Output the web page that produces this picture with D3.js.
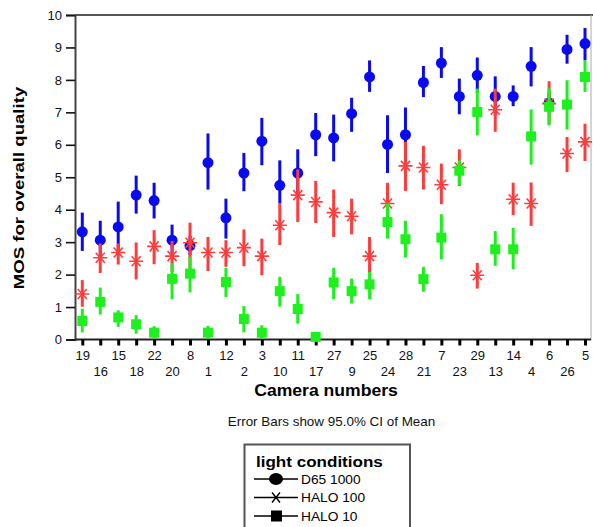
<!DOCTYPE html>
<html><head><meta charset="utf-8">
<script src="https://cdn.jsdelivr.net/npm/d3@7"></script>
<style>body{margin:0;background:#fff}svg{display:block}text{font-family:"Liberation Sans",Arial,sans-serif}</style>
</head><body>
<script>
const cameras = ["19","16","15","18","22","20","8","1","12","2","3","10","11","17","27","9","25","24","28","21","7","23","29","13","14","4","6","26","5"];
const yTicks = [0,1,2,3,4,5,6,7,8,9,10];
const seriesNames = ["D65 1000","HALO 100","HALO 10"];

const d65Mean = [3.32,3.06,3.47,4.45,4.28,3.06,2.89,5.45,3.75,5.13,6.11,4.75,5.13,6.31,6.21,6.96,8.09,6.01,6.31,7.92,8.52,7.49,8.14,7.49,7.49,8.42,7.29,8.94,9.12];
const d65Lo   = [2.73,2.46,2.69,3.88,3.73,2.58,2.60,4.62,3.11,4.57,5.37,4.19,4.40,5.65,5.49,6.40,7.63,5.13,5.52,7.47,8.06,6.94,7.60,6.90,7.19,7.80,7.00,8.50,8.60];
const d65Hi   = [3.91,3.66,4.25,5.05,4.83,3.54,3.20,6.35,4.34,5.75,6.83,5.52,5.86,6.98,6.93,7.45,8.60,6.91,7.15,8.43,9.01,8.04,8.69,8.11,7.83,9.01,7.60,9.39,9.60];

const halo100Mean = [1.40,2.52,2.68,2.41,2.87,2.57,2.98,2.68,2.68,2.83,2.57,3.52,4.45,4.24,3.91,3.80,2.57,4.19,5.35,5.30,4.77,5.30,1.98,7.08,4.32,4.19,7.27,5.73,6.09];
const halo100Lo   = [1.01,2.05,2.31,1.85,2.32,2.08,2.05,2.11,2.24,2.26,1.98,2.91,3.62,3.59,3.16,3.24,2.03,3.62,4.58,4.62,4.17,4.73,1.57,6.40,3.83,3.50,6.63,5.16,5.50];
const halo100Hi   = [1.83,2.96,2.96,2.99,3.37,3.04,3.60,3.16,3.06,3.39,3.11,4.19,5.24,4.89,4.62,4.34,3.16,4.83,6.09,5.97,5.42,5.86,2.36,7.73,4.83,4.84,7.96,6.24,6.65];

const halo10Mean = [0.57,1.16,0.68,0.47,0.21,1.87,2.03,0.21,1.77,0.63,0.21,1.49,0.94,0.08,1.76,1.49,1.70,3.62,3.09,1.86,3.14,5.20,7.01,2.78,2.78,6.26,7.17,7.24,8.09];
const halo10Lo   = [0.22,0.77,0.39,0.18,0.03,1.24,1.45,0.03,1.31,0.22,0.03,1.01,0.49,0.00,1.24,1.11,1.24,3.11,2.53,1.47,2.47,4.75,6.29,2.27,2.16,5.39,6.60,6.47,7.63];
const halo10Hi   = [0.95,1.60,0.90,0.75,0.41,2.36,2.55,0.42,2.21,1.03,0.44,1.93,1.40,0.18,2.21,1.88,2.08,4.19,3.66,2.24,3.86,5.52,7.73,3.34,3.44,7.09,7.76,7.99,8.60];

const W = 593, H = 527;
const svg = d3.select("body").append("svg").attr("width", W).attr("height", H);
svg.append("rect").attr("width", W).attr("height", H).attr("fill", "#fff");

const x = d3.scalePoint().domain(cameras).range([82.3, 585]);
const y = d3.scaleLinear().domain([0, 10]).range([339.5, 15]);
const left = 75, right = 591;
const SX = 1.1; // horizontal stretch of the original's text

// frame
svg.append("line").attr("x1", left).attr("x2", 593).attr("y1", 15).attr("y2", 15).attr("stroke", "#555").attr("stroke-width", 2);
svg.append("line").attr("x1", right).attr("x2", right).attr("y1", 15).attr("y2", 340).attr("stroke", "#aaa").attr("stroke-width", 1);

// y axis
const yAxis = svg.append("g").attr("transform", `translate(${left},0)`)
  .call(d3.axisLeft(y).tickValues(yTicks).tickSize(9).tickPadding(4).tickFormat(d3.format("d")));
yAxis.select(".domain").attr("stroke", "#444").attr("stroke-width", 2);
yAxis.selectAll(".tick line").attr("stroke", "#111").attr("stroke-width", 1.6);
yAxis.selectAll(".tick text").attr("font-size", 13).attr("fill", "#111");

// x axis
const xAxis = svg.append("g").attr("transform", "translate(0,339.5)")
  .call(d3.axisBottom(x).tickSize(6).tickPadding(4));
xAxis.select(".domain").attr("d", `M${left},0H${right}`).attr("stroke", "#222").attr("stroke-width", 2);
xAxis.selectAll(".tick line").attr("stroke", "#000").attr("stroke-width", 3);
xAxis.selectAll(".tick text").attr("font-size", 13).attr("fill", "#111")
  .attr("y", (d, i) => i % 2 === 0 ? 11 : 27);

// axis titles
svg.append("text").attr("transform", "translate(24,188) rotate(-90) scale(1.2,1)").attr("text-anchor", "middle")
  .attr("font-size", 15.5).attr("font-weight", "bold").attr("fill", "#000").text("MOS for overall quality");
svg.append("text").attr("transform", `translate(326,396) scale(${SX},1)`).attr("text-anchor", "middle")
  .attr("font-size", 16).attr("font-weight", "bold").attr("fill", "#000").text("Camera numbers");
svg.append("text").attr("transform", `translate(331.5,426) scale(1.12,1)`).attr("text-anchor", "middle")
  .attr("font-size", 12).attr("fill", "#111").text("Error Bars show 95.0% CI of Mean");

const colors = ["#0a0af0", "#ff3c3c", "#1ef01e"];
const series = [
  {mean: d65Mean, lo: d65Lo, hi: d65Hi, sym: "circle"},
  {mean: halo100Mean, lo: halo100Lo, hi: halo100Hi, sym: "star"},
  {mean: halo10Mean, lo: halo10Lo, hi: halo10Hi, sym: "square"}
];

series.forEach((s, si) => {
  const g = svg.append("g");
  const c = colors[si];
  cameras.forEach((cam, i) => {
    const cx = x(cam);
    g.append("line").attr("x1", cx).attr("x2", cx).attr("y1", y(s.lo[i])).attr("y2", y(s.hi[i]))
      .attr("stroke", c).attr("stroke-width", 3);
    const cy = y(s.mean[i]);
    if (s.sym === "circle") {
      g.append("circle").attr("cx", cx).attr("cy", cy).attr("r", 5.5).attr("fill", c);
    } else if (s.sym === "square") {
      g.append("rect").attr("x", cx - 5).attr("y", cy - 5).attr("width", 10).attr("height", 10).attr("fill", c);
    } else {
      g.append("path").attr("d", `M${cx-7},${cy}H${cx+7}M${cx-4.5},${cy-5}L${cx+4.5},${cy+5}M${cx-4.5},${cy+5}L${cx+4.5},${cy-5}`)
        .attr("stroke", c).attr("stroke-width", 1.6).attr("fill", "none");
    }
  });
});

// legend
const lg = svg.append("g");
lg.append("rect").attr("x", 244.5).attr("y", 444.5).attr("width", 165.5).attr("height", 100)
  .attr("fill", "#fff").attr("stroke", "#555").attr("stroke-width", 2);
lg.append("text").attr("transform", `translate(256,467) scale(${SX},1)`).attr("font-size", 15.5).attr("font-weight", "bold").attr("fill", "#000").text("light conditions");
const ly = [479, 497.5, 516];
seriesNames.forEach((name, i) => {
  const yy = ly[i];
  lg.append("line").attr("x1", 254).attr("x2", 298).attr("y1", yy).attr("y2", yy).attr("stroke", "#000").attr("stroke-width", 1.6);
  if (i === 0) lg.append("ellipse").attr("cx", 276).attr("cy", yy).attr("rx", 7).attr("ry", 6).attr("fill", "#000");
  else if (i === 1) lg.append("path").attr("d", `M272,${yy-5}L280,${yy+5}M272,${yy+5}L280,${yy-5}`).attr("stroke", "#000").attr("stroke-width", 1.4);
  else lg.append("rect").attr("x", 271).attr("y", yy - 5.5).attr("width", 11).attr("height", 11).attr("fill", "#000");
  lg.append("text").attr("transform", `translate(301,${yy + 4.5}) scale(${SX},1)`).attr("font-size", 12.5).attr("fill", "#000").text(name);
});
</script>
</body></html>
